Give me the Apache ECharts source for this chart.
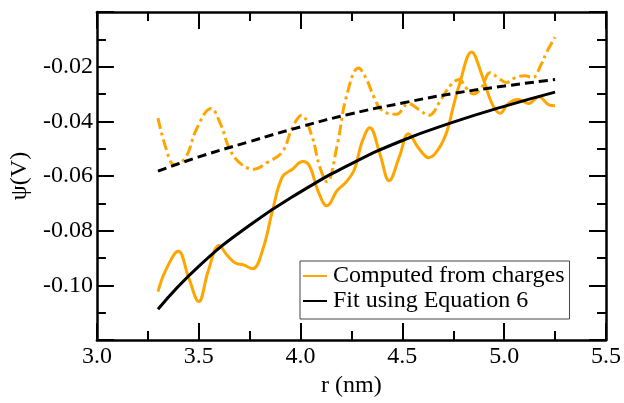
<!DOCTYPE html>
<html>
<head>
<meta charset="utf-8">
<script src="https://cdn.jsdelivr.net/npm/echarts@6/dist/echarts.min.js"></script>
<style>html,body{margin:0;padding:0;background:#fff}#c{width:624px;height:403px}</style>
</head>
<body>
<div id="c"></div>
<script>
// ---- data ----
const computedSolidR = [3.30,3.337,3.40,3.45,3.50,3.547,3.60,3.64,3.68,3.72,3.765,3.815,3.86,3.91,3.96,4.01,4.045,4.085,4.13,4.18,4.225,4.265,4.30,4.34,4.39,4.435,4.485,4.53,4.58,4.63,4.68,4.72,4.75,4.78,4.84,4.89,4.94,4.98,5.02,5.07,5.12,5.17,5.22,5.25];
const computedSolidPsi = [-0.1023,-0.0946,-0.0875,-0.0970,-0.1059,-0.0946,-0.0854,-0.0890,-0.0918,-0.0925,-0.0939,-0.0868,-0.0734,-0.0604,-0.0575,-0.0547,-0.0564,-0.0653,-0.0709,-0.0653,-0.0621,-0.0575,-0.0480,-0.0423,-0.0520,-0.0617,-0.0530,-0.0445,-0.0498,-0.0533,-0.0498,-0.0434,-0.0346,-0.0265,-0.0146,-0.0229,-0.0335,-0.0370,-0.0335,-0.0320,-0.0335,-0.0310,-0.0340,-0.0343];

const computedDashR = [3.30,3.34,3.38,3.435,3.49,3.56,3.605,3.65,3.70,3.77,3.835,3.91,3.96,4.005,4.055,4.095,4.13,4.18,4.225,4.285,4.32,4.36,4.40,4.47,4.53,4.58,4.63,4.69,4.74,4.78,4.81,4.85,4.89,4.93,4.97,5.01,5.055,5.10,5.14,5.18,5.21,5.25];
const computedDashPsi = [-0.0388,-0.0500,-0.0558,-0.0533,-0.0427,-0.0353,-0.0406,-0.0498,-0.0551,-0.0575,-0.0551,-0.0512,-0.0423,-0.0378,-0.0452,-0.0568,-0.0621,-0.0487,-0.0310,-0.0205,-0.0240,-0.0310,-0.0360,-0.0374,-0.0335,-0.0356,-0.0378,-0.0320,-0.0265,-0.0247,-0.0275,-0.0300,-0.0275,-0.0222,-0.0240,-0.0258,-0.0240,-0.0233,-0.0240,-0.0194,-0.0145,-0.0092];

const fitSolidR = [3.30,3.50,3.75,4.00,4.25,4.50,4.75,5.00,5.25];
const fitSolidPsi = [-0.1087,-0.0930,-0.0780,-0.0658,-0.0555,-0.0470,-0.0403,-0.0345,-0.0293];

const fitDashR = [3.30,3.50,3.75,4.00,4.25,4.50,4.75,5.00,5.25];
const fitDashPsi = [-0.0582,-0.0530,-0.0474,-0.0420,-0.0372,-0.0333,-0.0298,-0.0271,-0.0247];

const legendNames = ['Computed from charges', 'Fit using Equation 6'];
const xAxisTitle = 'r (nm)';
const yAxisTitle = 'ψ(V)';

// ---- chart ----
const zip = (a, b) => a.map((v, i) => [v, b[i]]);
const FONT = "'Liberation Serif','Times New Roman',serif";
const FS = 24;
const ORANGE = '#FFA500';

const frameAxisCommon = {
  axisLine: { show: true, onZero: false, lineStyle: { color: '#000', width: 2.5 } },
  axisTick: { show: true, inside: true, length: 17, lineStyle: { color: '#000', width: 2 } },
  minorTick: { show: true, splitNumber: 2, length: 9, lineStyle: { color: '#000', width: 2 } },
  splitLine: { show: false },
  minorSplitLine: { show: false }
};

const xBase = Object.assign({ type: 'value', min: 3.0, max: 5.5, interval: 0.5 }, frameAxisCommon);
const yBase = Object.assign({ type: 'value', min: -0.12, max: 0, interval: 0.02 }, frameAxisCommon);

const chart = echarts.init(document.getElementById('c'), null, { renderer: 'canvas' });
chart.setOption({
  animation: false,
  backgroundColor: '#fff',
  textStyle: { fontFamily: FONT },
  grid: { left: 96, right: 16, top: 12, bottom: 51, containLabel: false },
  xAxis: [
    Object.assign({}, xBase, {
      position: 'bottom',
      name: xAxisTitle, nameLocation: 'middle', nameGap: 29,
      nameTextStyle: { fontFamily: FONT, fontSize: FS, color: '#000' },
      axisLabel: { show: true, margin: 5, fontFamily: FONT, fontSize: FS, color: '#000',
        formatter: v => v.toFixed(1) }
    }),
    Object.assign({}, xBase, { position: 'top', axisLabel: { show: false } })
  ],
  yAxis: [
    Object.assign({}, yBase, {
      position: 'left',
      name: yAxisTitle, nameLocation: 'middle', nameGap: 64, nameRotate: 90,
      nameTextStyle: { fontFamily: FONT, fontSize: FS, color: '#000' },
      axisLabel: { show: true, margin: 4, fontFamily: FONT, fontSize: FS, color: '#000',
        showMinLabel: false, showMaxLabel: false,
        formatter: v => v.toFixed(2) }
    }),
    Object.assign({}, yBase, { position: 'right', axisLabel: { show: false } })
  ],
  legend: {
    data: legendNames,
    orient: 'vertical',
    left: 300, top: 261,
    padding: [3, 5, 6, 3],
    itemGap: 1,
    itemWidth: 24, itemHeight: 24,
    icon: 'path://M0,11 L24,11 L24,13 L0,13 Z',
    backgroundColor: '#fff',
    borderColor: '#444', borderWidth: 1,
    textStyle: { fontFamily: FONT, fontSize: FS, color: '#000', padding: [0, 0, 0, 1] }
  },
  series: [
    {
      name: legendNames[0], type: 'line', xAxisIndex: 0, yAxisIndex: 0,
      data: zip(computedSolidR, computedSolidPsi), smooth: 0.4, symbol: 'none',
      lineStyle: { color: ORANGE, width: 3 }, itemStyle: { color: ORANGE }, z: 3
    },
    {
      name: 'Computed from charges (dash-dot)', type: 'line', xAxisIndex: 0, yAxisIndex: 0,
      data: zip(computedDashR, computedDashPsi), smooth: 0.4, symbol: 'none',
      lineStyle: { color: ORANGE, width: 3, type: [11, 4, 3, 4] }, itemStyle: { color: ORANGE }, z: 3
    },
    {
      name: legendNames[1], type: 'line', xAxisIndex: 0, yAxisIndex: 0,
      data: zip(fitSolidR, fitSolidPsi), smooth: 0.5, symbol: 'none',
      lineStyle: { color: '#000', width: 3 }, itemStyle: { color: '#000' }, z: 4
    },
    {
      name: 'Fit using Equation 6 (dashed)', type: 'line', xAxisIndex: 0, yAxisIndex: 0,
      data: zip(fitDashR, fitDashPsi), smooth: 0.5, symbol: 'none',
      lineStyle: { color: '#000', width: 3, type: [9, 5] }, itemStyle: { color: '#000' }, z: 4
    }
  ]
});
</script>
</body>
</html>
